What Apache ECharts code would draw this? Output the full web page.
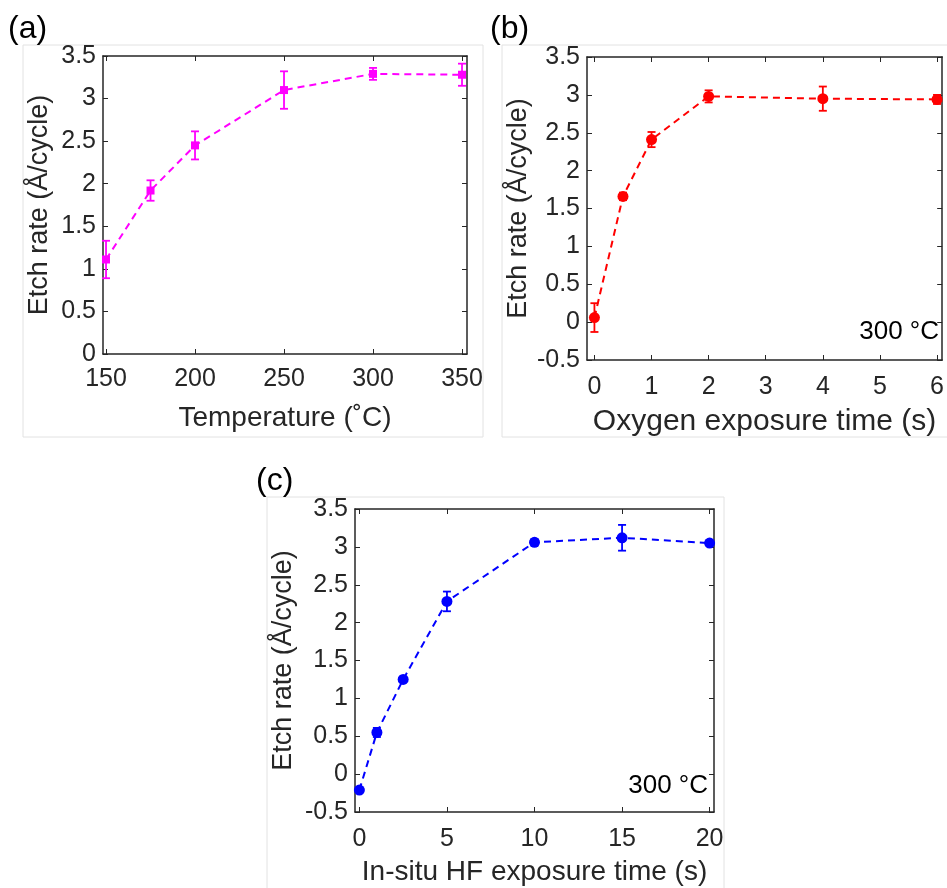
<!DOCTYPE html>
<html>
<head>
<meta charset="utf-8">
<script src="https://cdn.jsdelivr.net/npm/echarts@6/dist/echarts.min.js"></script>
<style>
  html, body { margin: 0; padding: 0; background: #fff; }
  #chart { width: 947px; height: 888px; }
</style>
</head>
<body>
<div id="chart"></div>
<script>
// (a) etch rate vs temperature
const tempX = [150, 175, 200, 250, 300, 350]
const tempY = [1.11, 1.92, 2.45, 3.10, 3.29, 3.28]
const tempErr = [0.22, 0.12, 0.165, 0.22, 0.07, 0.13]
const tempTicks = [150, 200, 250, 300, 350]

// (b) etch rate vs oxygen exposure time
const oxyX = [0, 0.5, 1, 2, 4, 6]
const oxyY = [0.06, 1.66, 2.41, 2.98, 2.95, 2.94]
const oxyErr = [0.19, 0.05, 0.1, 0.08, 0.16, 0.06]
const oxyTicks = [0, 1, 2, 3, 4, 5, 6]

// (c) etch rate vs in-situ HF exposure time
const hfX = [0, 1, 2.5, 5, 10, 15, 20]
const hfY = [-0.21, 0.55, 1.25, 2.28, 3.06, 3.12, 3.05]
const hfErr = [0.02, 0.06, 0.02, 0.13, 0.04, 0.17, 0.03]
const hfTicks = [0, 5, 10, 15, 20]

const FONT = "'Liberation Sans', Arial, sans-serif"
const AX = "#262626"

// bottom axis with labels + top axis only for the box
const makeX = (grid, min, max, ticks, name, nameGap, nameSize, margin) => {
  const base = {
    type: "value", gridIndex: grid, min, max,
    splitLine: { show: false },
    axisLine: { onZero: false, lineStyle: { color: AX, width: 1.5 } },
    axisTick: { inside: true, length: 5, customValues: ticks, lineStyle: { color: AX, width: 1 } }
  }
  return [
    {
      ...base, position: "bottom",
      name, nameLocation: "middle", nameGap,
      nameTextStyle: { color: AX, fontSize: nameSize, fontFamily: FONT },
      axisLabel: { customValues: ticks, margin, color: AX, fontSize: 25, fontFamily: FONT }
    },
    { ...base, position: "top", axisLabel: { show: false } }
  ]
}

const makeY = (grid, min, max, nameGap) => {
  const base = {
    type: "value", gridIndex: grid, min, max, interval: 0.5,
    splitLine: { show: false },
    axisLine: { onZero: false, lineStyle: { color: AX, width: 1.5 } },
    axisTick: { inside: true, length: 5, lineStyle: { color: AX, width: 1 } }
  }
  return [
    {
      ...base, position: "left",
      name: "Etch rate (Å/cycle)", nameLocation: "middle", nameGap,
      nameTextStyle: { color: AX, fontSize: 27, fontFamily: FONT },
      axisLabel: { margin: 7, color: AX, fontSize: 25, fontFamily: FONT }
    },
    { ...base, position: "right", axisLabel: { show: false } }
  ]
}

const lineSeries = (axis, xs, ys, color, symbol, size) => ({
  type: "line",
  xAxisIndex: axis, yAxisIndex: axis,
  data: xs.map((x, i) => [x, ys[i]]),
  symbol, symbolSize: size,
  showAllSymbol: true,
  lineStyle: { color, width: 2, type: [7, 5] },
  itemStyle: { color },
  z: 4, silent: true
})

// vertical error bars with caps
const errSeries = (axis, xs, ys, es, color) => ({
  type: "custom",
  xAxisIndex: axis, yAxisIndex: axis,
  data: xs.map((x, i) => [x, ys[i] - es[i], ys[i] + es[i]]),
  encode: { x: 0, y: [1, 2] },
  renderItem: (params, api) => {
    const lo = api.coord([api.value(0), api.value(1)])
    const hi = api.coord([api.value(0), api.value(2)])
    const w = 4
    const style = { stroke: color, lineWidth: 1.8 }
    return {
      type: "group",
      children: [
        { type: "line", shape: { x1: lo[0], y1: lo[1], x2: hi[0], y2: hi[1] }, style },
        { type: "line", shape: { x1: lo[0] - w, y1: lo[1], x2: lo[0] + w, y2: lo[1] }, style },
        { type: "line", shape: { x1: hi[0] - w, y1: hi[1], x2: hi[0] + w, y2: hi[1] }, style }
      ]
    }
  },
  z: 3, silent: true
})

const frame = (x, y, w, h) => ({
  type: "rect", shape: { x, y, width: w, height: h },
  style: { fill: "none", stroke: "#e2e2e2", lineWidth: 1 }, z: -1
})
const label = (x, y, text, size, align) => ({
  type: "text", x, y,
  style: { text, fill: "#000", fontSize: size, fontFamily: FONT, align: align || "left", verticalAlign: "middle" }
})

const chart = echarts.init(document.getElementById("chart"))

const option = {
  backgroundColor: "#fff",
  animation: false,
  grid: [
    { left: 103, top: 56, width: 364, height: 298 },
    { left: 587, top: 57, width: 358, height: 303 },
    { left: 355, top: 509, width: 359, height: 303 }
  ],
  xAxis: [
    ...makeX(0, 148.3, 352.8, tempTicks, "Temperature (˚C)", 50, 28, 13),
    ...makeX(1, -0.13, 6.09, oxyTicks, "Oxygen exposure time (s)", 47, 30, 15),
    ...makeX(2, -0.25, 20.25, hfTicks, "In-situ HF exposure time (s)", 46, 28, 15)
  ],
  yAxis: [
    ...makeY(0, 0, 3.5, 50),
    ...makeY(1, -0.5, 3.5, 55),
    ...makeY(2, -0.5, 3.5, 58)
  ],
  series: [
    lineSeries(0, tempX, tempY, "#ff00ff", "rect", 8),
    errSeries(0, tempX, tempY, tempErr, "#ff00ff"),
    lineSeries(2, oxyX, oxyY, "#ff0000", "circle", 11),
    errSeries(2, oxyX, oxyY, oxyErr, "#ff0000"),
    lineSeries(4, hfX, hfY, "#0000ff", "circle", 11),
    errSeries(4, hfX, hfY, hfErr, "#0000ff")
  ],
  graphic: [
    frame(23, 45, 460, 392),
    frame(502, 45, 450, 392),
    frame(267, 497, 457, 400),
    label(8, 29, "(a)", 32),
    label(490, 29, "(b)", 32),
    label(256, 481, "(c)", 32),
    label(939, 332, "300 °C", 26, "right"),
    label(708, 786, "300 °C", 26, "right")
  ]
}

chart.setOption(option)
</script>
</body>
</html>
